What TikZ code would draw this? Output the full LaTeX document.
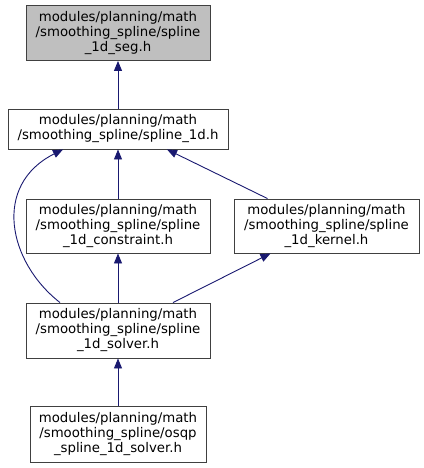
\documentclass[tikz,border=0pt]{standalone}
\usepackage{fontspec}
\setmainfont{DejaVu Sans}
\usetikzlibrary{arrows.meta}
\definecolor{edgeblue}{HTML}{191970}
\definecolor{boxgray}{HTML}{BFBFBF}
\definecolor{boxline}{HTML}{404040}
\tikzset{
  file/.style={draw=boxline, line width=0.9pt, fill=white, inner sep=0pt, align=center,
    font=\fontsize{13.3}{15}\selectfont, text=black},
  edge/.style={draw=edgeblue, line width=0.9pt, -{Triangle[length=10pt,width=8pt]}, fill=none},
}
\begin{document}
\begin{tikzpicture}[x=1pt,y=-1pt]
\useasboundingbox (0,0) rectangle (423,468);
\node[file, fill=boxgray, minimum width=184pt, minimum height=55pt] (n1) at (118,33)
  {modules/planning/math\\/smoothing\_spline/spline\\\_1d\_seg.h};
\node[file, minimum width=220pt, minimum height=40pt] (n2) at (118,129)
  {modules/planning/math\\/smoothing\_spline/spline\_1d.h};
\node[file, minimum width=184pt, minimum height=54pt] (n3) at (118,226)
  {modules/planning/math\\/smoothing\_spline/spline\\\_1d\_constraint.h};
\node[file, minimum width=185pt, minimum height=54pt] (n4) at (326.5,226)
  {modules/planning/math\\/smoothing\_spline/spline\\\_1d\_kernel.h};
\node[file, minimum width=184pt, minimum height=55pt] (n5) at (118,330.5)
  {modules/planning/math\\/smoothing\_spline/spline\\\_1d\_solver.h};
\node[file, minimum width=176pt, minimum height=56pt] (n6) at (118,434)
  {modules/planning/math\\/smoothing\_spline/osqp\\\_spline\_1d\_solver.h};
\draw[edge] (n2.north) -- (n1.south);
\draw[edge] (n3.north) -- (n2.south);
\draw[edge] ([xshift=-59pt]n4.north) -- ([xshift=49pt]n2.south);
\draw[edge] ([xshift=-58pt]n5.north) .. controls (8,262) and (-8,185) .. ([xshift=-55pt]n2.south);
\draw[edge] (n5.north) -- (n3.south);
\draw[edge] ([xshift=55pt]n5.north) -- ([xshift=-56pt]n4.south);
\draw[edge] (n6.north) -- (n5.south);
\end{tikzpicture}
\end{document}
